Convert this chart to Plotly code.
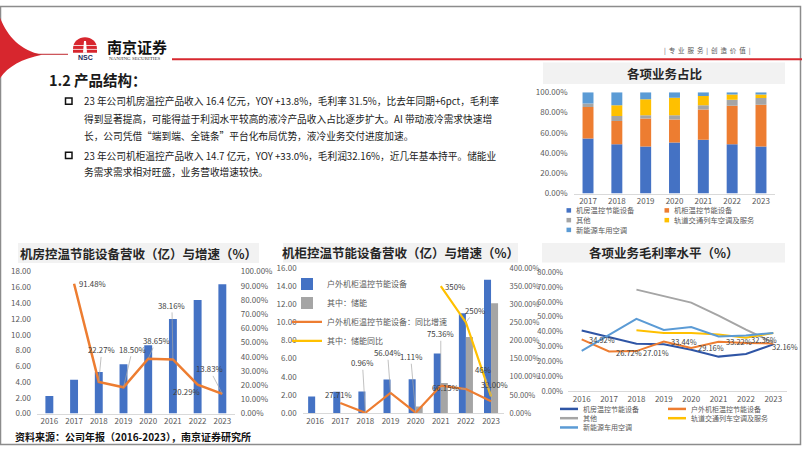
import plotly.graph_objects as go

W, H = 802, 451
FONT = "Noto Sans CJK SC"


def px(x):
    return x / W


def py(y):
    return 1 - y / H


# ---------------- data ----------------
share_years = ["2017", "2018", "2019", "2020", "2021", "2022", "2023"]
share_room = [54.2, 48.7, 46.5, 50.3, 53.2, 48.7, 46.5]
share_cabinet = [31.1, 22.8, 27.5, 22.8, 29.8, 37.8, 41.0]
share_other = [3.5, 5.1, 3.2, 4.1, 4.2, 6.1, 6.7]
share_rail = [0.0, 10.6, 15.7, 17.4, 9.0, 5.2, 3.6]
share_ev = [11.2, 12.8, 7.1, 5.4, 3.8, 2.2, 2.2]
share_names = ["机房温控节能设备", "机柜温控节能设备", "其他", "轨道交通列车空调及服务", "新能源车用空调"]

years = ["2016", "2017", "2018", "2019", "2020", "2021", "2022", "2023"]
room_rev = [2.22, 4.30, 5.26, 6.24, 8.65, 11.99, 14.41, 16.40]
room_yoy = [None, 91.48, 22.27, 18.50, 38.65, 38.16, 20.29, 13.83]

cab_rev = [1.84, 2.35, 2.37, 3.70, 3.74, 6.56, 11.00, 14.70]
storage_rev = [None, None, None, None, 0.72, 3.31, 8.38, 12.12]
cab_yoy = [None, 27.71, 0.96, 56.04, 1.11, 75.36, 66.15, 33.00]
storage_yoy = [None, None, None, None, None, 350, 250, 46]

gm_room = [40.8, 36.4, 32.0, 31.6, 27.9, 23.3, 25.1, 31.5]
gm_cabinet = [34.92, 26.72, 27.01, 33.44, 29.16, 33.22, 32.36, 32.16]
gm_other = [None, None, 68.2, 63.7, 59.5, 50.8, 41.4, 32.7]
gm_rail = [None, None, 41.0, 39.2, 39.2, 38.1, 36.0, 39.2]
gm_ev = [27.2, 38.1, 48.6, 41.2, 43.2, 36.8, 37.5, 39.2]
gm_names = ["机房温控节能设备", "户外机柜温控节能设备", "其他", "轨道交通列车空调及服务", "新能源车用空调"]

C_BLUE = "#4472C4"
C_ORANGE = "#ED7D31"
C_GRAY = "#A5A5A5"
C_YELLOW = "#FFC000"
C_LBLUE = "#5B9BD5"
C_DBLUE = "#2F55A5"
TICK = dict(size=8, color="#595959", family=FONT)
TICK_S = dict(size=7.5, color="#595959", family=FONT)

fig = go.Figure()

# ---------------- top-right stacked share chart ----------------
share_series = [share_room, share_cabinet, share_other, share_rail, share_ev]
share_colors = [C_BLUE, C_ORANGE, C_GRAY, C_YELLOW, C_LBLUE]
base = [0.0] * len(share_years)
for name, vals, col in zip(share_names, share_series, share_colors):
    fig.add_trace(go.Bar(x=share_years, y=vals, base=list(base), name=name,
                         marker=dict(color=col, line=dict(width=0)), width=0.38,
                         xaxis="x", yaxis="y", showlegend=False))
    base = [b + v for b, v in zip(base, vals)]

# ---------------- bottom-left room chart ----------------
fig.add_trace(go.Bar(x=years, y=room_rev, name="机房温控节能设备营收",
                     marker=dict(color=C_BLUE, line=dict(width=0)), width=0.32,
                     xaxis="x2", yaxis="y2", showlegend=False))
fig.add_trace(go.Scatter(x=years, y=room_yoy, mode="lines", name="同比增速",
                         line=dict(color=C_ORANGE, width=2.5),
                         xaxis="x2", yaxis="y3", showlegend=False))

# ---------------- bottom-middle cabinet chart ----------------
fig.add_trace(go.Bar(x=years, y=cab_rev, name="户外机柜温控节能设备",
                     marker=dict(color=C_BLUE, line=dict(width=0)), width=0.28, offset=-0.28,
                     xaxis="x3", yaxis="y4", legend="legend"))
fig.add_trace(go.Bar(x=years, y=storage_rev, name="其中：储能",
                     marker=dict(color=C_GRAY, line=dict(width=0)), width=0.28, offset=0.0,
                     xaxis="x3", yaxis="y4", legend="legend"))
fig.add_trace(go.Scatter(x=years, y=cab_yoy, mode="lines", name="户外机柜温控节能设备：同比增速",
                         line=dict(color=C_ORANGE, width=2.2),
                         xaxis="x3", yaxis="y5", legend="legend"))
fig.add_trace(go.Scatter(x=years, y=storage_yoy, mode="lines", name="其中：储能同比",
                         line=dict(color=C_YELLOW, width=2.2),
                         xaxis="x3", yaxis="y5", legend="legend"))

# ---------------- bottom-right margin chart ----------------
gm_series = [gm_room, gm_cabinet, gm_other, gm_rail, gm_ev]
gm_colors = [C_DBLUE, C_ORANGE, C_GRAY, C_YELLOW, C_LBLUE]
for name, vals, col in zip(gm_names, gm_series, gm_colors):
    fig.add_trace(go.Scatter(x=years, y=vals, mode="lines", name=name,
                             line=dict(color=col, width=2),
                             xaxis="x4", yaxis="y6", showlegend=False))

# ---------------- shapes & annotations ----------------
shapes = []
annotations = []


def rect(x0, y0, x1, y1, fill, line_color=None, lw=0, layer="below"):
    shapes.append(dict(type="rect", xref="paper", yref="paper",
                       x0=px(x0), x1=px(x1), y0=py(y1), y1=py(y0),
                       fillcolor=fill, line=dict(width=lw, color=line_color or fill), layer=layer))


def hline(x0, x1, y, color, lw):
    shapes.append(dict(type="line", xref="paper", yref="paper",
                       x0=px(x0), x1=px(x1), y0=py(y), y1=py(y),
                       line=dict(color=color, width=lw)))


def path(cmds, fill, layer="above"):
    s = ""
    for c, pts in cmds:
        s += c + " " + " ".join(f"{px(x):.5f},{py(y):.5f}" for x, y in pts) + " "
    shapes.append(dict(type="path", xref="paper", yref="paper", path=s.strip(),
                       fillcolor=fill, line=dict(width=0), layer=layer))


def text(x, y, s, size, color="#222222", bold=False, xanchor="left", family=FONT, pad=1):
    annotations.append(dict(xref="paper", yref="paper", x=px(x), y=py(y),
                            text=f"<b>{s}</b>" if bold else s, showarrow=False,
                            xanchor=xanchor, yanchor="middle", borderpad=pad,
                            font=dict(size=size, color=color, family=family)))


# slide frame
rect(0.5, 0.5, 800.5, 449.5, "rgba(0,0,0,0)", "#8C8C8C", 1.5, layer="above")

# header decoration
path([("M", [(0, 12)]), ("C", [(8, 32), (20, 45), (42, 50)]),
      ("C", [(22, 54), (8, 62), (0, 74)]), ("Z", [])], "#D7262E")
hline(30, 68, 49.5, "#C0282E", 1)
path([("M", [(73, 48)]), ("L", [(73, 44)]), ("C", [(73, 36), (79, 32), (85, 32)]),
      ("C", [(91, 32), (97, 36), (97, 44)]), ("L", [(97, 48)]), ("Z", [])], "#D7262E")
path([("M", [(83, 48)]), ("L", [(84, 36)]), ("L", [(86, 36)]), ("L", [(87, 48)]), ("Z", [])], "#FFFFFF")
hline(73, 97, 40.5, "#FFFFFF", 0.8)
hline(73, 97, 44.5, "#FFFFFF", 0.8)
text(85, 52.5, "NSC", 7, "#1B2A5C", True, "center", "Liberation Sans")
text(105, 42, "南京证券", 15, "#111111", True)
text(107, 54, "NANJING SECURITIES", 5, "#333333", False, "left", "Liberation Serif")
hline(172, 802, 54.5, "#D7282F", 2)
text(707, 45, "|&nbsp;&nbsp;专&nbsp;&nbsp;业&nbsp;&nbsp;服&nbsp;&nbsp;务&nbsp;&nbsp;|&nbsp;&nbsp;创&nbsp;&nbsp;造&nbsp;&nbsp;价&nbsp;&nbsp;值&nbsp;&nbsp;|",
     6.5, "#555555", False, "center")

# heading and bullets
text(47, 75, "1.2 产品结构：", 14.5, "#1A1A1A", True)
for by in (97.7, 153.3):
    rect(65.5, by - 3.5, 72, by + 3, "rgba(0,0,0,0)", "#111111", 1.5, layer="above")
body_lines = [
    (97.7, "23 年公司机房温控产品收入 16.4 亿元，YOY +13.8%，毛利率 31.5%，比去年同期+6pct，毛利率"),
    (116.0, "得到显著提高，可能得益于利润水平较高的液冷产品收入占比逐步扩大。AI 带动液冷需求快速增"),
    (133.3, "长，公司凭借“端到端、全链条”平台化布局优势，液冷业务交付进度加速。"),
    (153.3, "23 年公司机柜温控产品收入 14.7 亿元，YOY +33.0%，毛利润32.16%，近几年基本持平。储能业"),
    (170.0, "务需求需求相对旺盛，业务营收增速较快。"),
]
for ly, s in body_lines:
    text(82, ly, s, 9.7, "#1A1A1A")

# chart title boxes
titles = [
    (543, 58, 785, 80, "各项业务占比"),
    (18, 243, 259, 263.5, "机房控温节能设备营收（亿）与增速（%）"),
    (283, 243, 518, 263, "机柜控温节能设备营收（亿）与增速（%）"),
    (542, 243, 785, 263, "各项业务毛利率水平（%）"),
]
for x0, y0, x1, y1, s in titles:
    rect(x0, y0, x1, y1, "#F2F2F2")
    text((x0 + x1) / 2, (y0 + y1) / 2, s, 12.5, "#262626", True, "center")

# source
text(13, 441.5, "资料来源：公司年报（2016-2023），南京证券研究所", 10, "#111111", True)

# manual legend: share chart
share_leg = [(566.5, 209.5, 0), (664.5, 209.5, 1), (566.5, 219.5, 2), (664.5, 219.5, 3), (566.5, 229.5, 4)]
for lx, ly, i in share_leg:
    rect(lx, ly - 2.3, lx + 4.6, ly + 2.3, share_colors[i], layer="above")
    text(lx + 8, ly, share_names[i], 7.3, "#595959", pad=0)

# manual legend: margin chart
gm_leg = [(560, 413, 0), (668, 413, 1), (560, 422.5, 2), (668, 422.5, 3), (560, 432, 4)]
for lx, ly, i in gm_leg:
    hline(lx, lx + 18, ly, gm_colors[i], 2.5)
    text(lx + 22, ly, gm_names[i], 7, "#595959", pad=0)


# data labels (x given as category index)
def dlabel(xr, yr, xi, y, s, ax, ay, leader):
    annotations.append(dict(xref=xr, yref=yr, x=xi, y=y, text=s, showarrow=True,
                            ax=ax, ay=ay, arrowhead=0, arrowwidth=0.7,
                            arrowcolor="#A6A6A6" if leader else "rgba(0,0,0,0)",
                            font=dict(size=7.8, color="#404040", family=FONT)))


room_pos = [None, (18, 0, False), (3, -32, True), (9, -38, True), (8, -18, True),
            (-1, -54, True), (-11, 7, False), (-13, -25, True)]
for i, (v, p) in enumerate(zip(room_yoy, room_pos)):
    if v is not None:
        dlabel("x2", "y3", i, v, f"{v:.2f}%", p[0], p[1], p[2])

cab_pos = [None, (-2, -9, False), (-3, -50, True), (-3, -40, True), (-5, -56, True),
           (0, -52, True), (-20, -2, True), (3, -17, False)]
for i, (v, p) in enumerate(zip(cab_yoy, cab_pos)):
    if v is not None:
        dlabel("x3", "y5", i, v, f"{v:.2f}%", p[0], p[1], p[2])

sto_pos = [None, None, None, None, None, (14, 0, False), (9, -12, True), (-8, -27, True)]
for i, (v, p) in enumerate(zip(storage_yoy, sto_pos)):
    if v is not None:
        dlabel("x3", "y5", i, v, f"{v:.0f}%", p[0], p[1], p[2])

gm_shift = [(5, 0), (5, -1), (5, -1), (5, 0), (5, 0), (5, 0), (3, 4), (-3, -3)]
for i, v in enumerate(gm_cabinet):
    annotations.append(dict(xref="x4", yref="y6", x=i, y=v, text=f"{v:.2f}%", showarrow=False,
                            xanchor="left", yanchor="middle",
                            xshift=gm_shift[i][0], yshift=gm_shift[i][1],
                            font=dict(size=7.5, color="#404040", family=FONT)))


# ---------------- axes ----------------
def xax(d0, d1, anchor, n):
    return dict(domain=[px(d0), px(d1)], anchor=anchor, type="category", showline=True,
                range=[-0.5, n - 0.5], autorange=False,
                linecolor="#D9D9D9", linewidth=1, showgrid=False, zeroline=False,
                ticks="", tickfont=TICK, fixedrange=True)


def yax(d0, d1, rng, dtick, anchor, side="left", overlay=None, font=TICK, standoff=5):
    a = dict(domain=[py(d0), py(d1)], range=rng, dtick=dtick, tick0=0, anchor=anchor, side=side,
             showgrid=False, zeroline=False, showline=False, ticks="", tickformat=".2f",
             tickfont=font, ticklabelstandoff=standoff, fixedrange=True)
    if overlay:
        a["overlaying"] = overlay
        a.pop("domain")
    return a


pct = dict(ticksuffix="%")

fig.update_layout(
    width=W, height=H, autosize=False,
    margin=dict(l=0, r=0, t=0, b=0),
    paper_bgcolor="white", plot_bgcolor="rgba(0,0,0,0)",
    barmode="overlay",
    font=dict(family=FONT, color="#404040"),
    xaxis=xax(573.6, 775.4, "y", len(share_years)),
    yaxis={**yax(192.3, 88.3, [0, 100], 20, "x"), **pct},
    xaxis2=xax(37, 234.7, "y2", len(years)),
    yaxis2=yax(417.7, 272.3, [0, 18], 2, "x2"),
    yaxis3={**yax(0, 0, [0, 100], 10, "x2", "right", "y2"), **pct},
    xaxis3=xax(302.6, 503.6, "y4", len(years)),
    yaxis4=yax(417.3, 268.5, [0, 16], 2, "x3"),
    yaxis5={**yax(0, 0, [0, 400], 50, "x3", "right", "y4", TICK_S, 5), **pct},
    xaxis4=xax(568, 787, "y6", len(years)),
    yaxis6={**yax(395, 272.7, [0, 80], 10, "x4", font=TICK_S, standoff=4), **pct},
    legend=dict(x=px(287), y=py(270), xanchor="left", yanchor="top",
                bgcolor="rgba(0,0,0,0)", font=dict(size=8, color="#595959", family=FONT),
                tracegroupgap=0, itemclick=False, itemdoubleclick=False),
    shapes=shapes,
    annotations=annotations,
)

fig.write_html("out.html", post_script="document.body.style.margin='0';")
